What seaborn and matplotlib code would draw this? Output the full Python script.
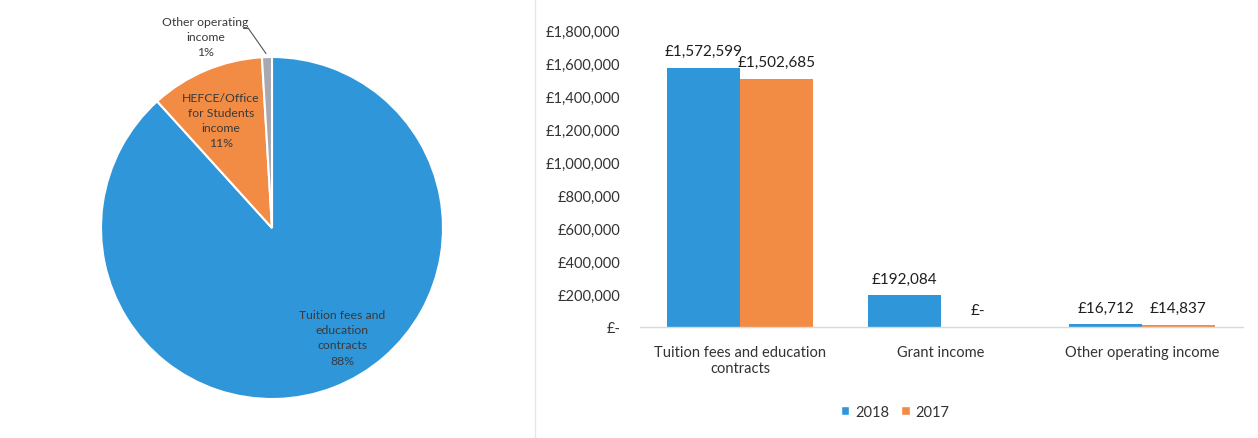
import matplotlib
matplotlib.use("Agg")
import matplotlib.pyplot as plt
from matplotlib.ticker import FuncFormatter
from matplotlib.patches import Patch
import seaborn as sns
import pandas as pd

# ---- data ----
pie_labels = ["Tuition fees and\neducation\ncontracts", "HEFCE/Office\nfor Students\nincome", "Other operating\nincome"]
pie_values = [1572599, 192084, 16712]

bar_categories = ["Tuition fees and education\ncontracts", "Grant income", "Other operating income"]
years = ["2018", "2017"]
values_2018 = [1572599, 192084, 16712]
values_2017 = [1502685, 0, 14837]

BLUE = "#2F96DA"
ORANGE = "#F28C45"
GRAY = "#A8A8B0"

sns.set_theme(style="white")
plt.rcParams["font.family"] = ["Lato", "DejaVu Sans"]

fig = plt.figure(figsize=(12.58, 4.39), dpi=100)
W, H = 1258, 439

# faint separator line (scan of document)
fig.add_artist(plt.Line2D([535 / W, 535 / W], [0, 1], color="#E6E6E6", lw=1))

# ---- pie ----
cx, cy, r = 272, 229, 171
pax = fig.add_axes([(cx - r) / W, (H - cy - r) / H, 2 * r / W, 2 * r / H])
wedges, _ = pax.pie(pie_values, colors=[BLUE, ORANGE, GRAY], startangle=90,
                    counterclock=False, radius=1,
                    wedgeprops=dict(edgecolor="white", linewidth=1.5))
pax.set_xlim(-1, 1)
pax.set_ylim(-1, 1)
pax.set_aspect("equal")
pax.axis("off")
total = sum(pie_values)
pcts = [round(v / total * 100) for v in pie_values]
label_pos = [(0.41, -0.64), (-0.30, 0.63), (-0.39, 1.12)]
for (lx, ly), txt, p in zip(label_pos, pie_labels, pcts):
    pax.text(lx, ly, f"{txt}\n{p}%", ha="center", va="center", fontsize=8.8,
             color="#3A3A3A", linespacing=1.45, clip_on=False)
pax.plot([-0.14, -0.035], [1.17, 1.02], color="#555555", lw=0.8, clip_on=False)
pax.plot([-0.17, -0.14], [1.17, 1.17], color="#555555", lw=0.8, clip_on=False)

# ---- bars ----
df = pd.DataFrame({
    "category": bar_categories * 2,
    "year": [years[0]] * 3 + [years[1]] * 3,
    "value": values_2018 + values_2017,
})
left, right, top, bottom = 639.5, 1242.5, 31, 328
bax = fig.add_axes([left / W, (H - bottom) / H, (right - left) / W, (bottom - top) / H])
sns.barplot(data=df, x="category", y="value", hue="year", hue_order=years,
            palette=[BLUE, ORANGE], saturation=1, width=0.725, ax=bax, legend=False,
            linewidth=0)
bax.set_ylim(0, 1800000)
bax.set_xlim(-0.5, 2.5)
bax.set_yticks(range(0, 1800001, 200000))
bax.yaxis.set_major_formatter(FuncFormatter(lambda v, p: "£-" if v == 0 else f"£{v:,.0f}"))
bax.set_xlabel("")
bax.set_ylabel("")
for s in ["top", "right", "left"]:
    bax.spines[s].set_visible(False)
bax.spines["bottom"].set_color("#D9D9D9")
bax.spines["bottom"].set_linewidth(1)
bax.tick_params(axis="y", length=0, pad=14, labelsize=10.5, labelcolor="#333333")
bax.tick_params(axis="x", length=0, pad=13, labelsize=10.5, labelcolor="#333333")
for cont, vals in zip(bax.containers, [values_2018, values_2017]):
    labs = ["£-" if v == 0 else f"£{v:,.0f}" for v in vals]
    bax.bar_label(cont, labels=labs, padding=7, fontsize=11, color="#1E1E1E")

handles = [Patch(facecolor=BLUE, label=years[0]), Patch(facecolor=ORANGE, label=years[1])]
fig.legend(handles=handles, loc="center", bbox_to_anchor=(895 / W, 1 - 413 / H), ncol=2,
           frameon=False, fontsize=10.5, handlelength=0.6, handleheight=0.6,
           handletextpad=0.4, columnspacing=0.8, labelcolor="#333333")

fig.savefig("out.png", dpi=100, facecolor="white")
